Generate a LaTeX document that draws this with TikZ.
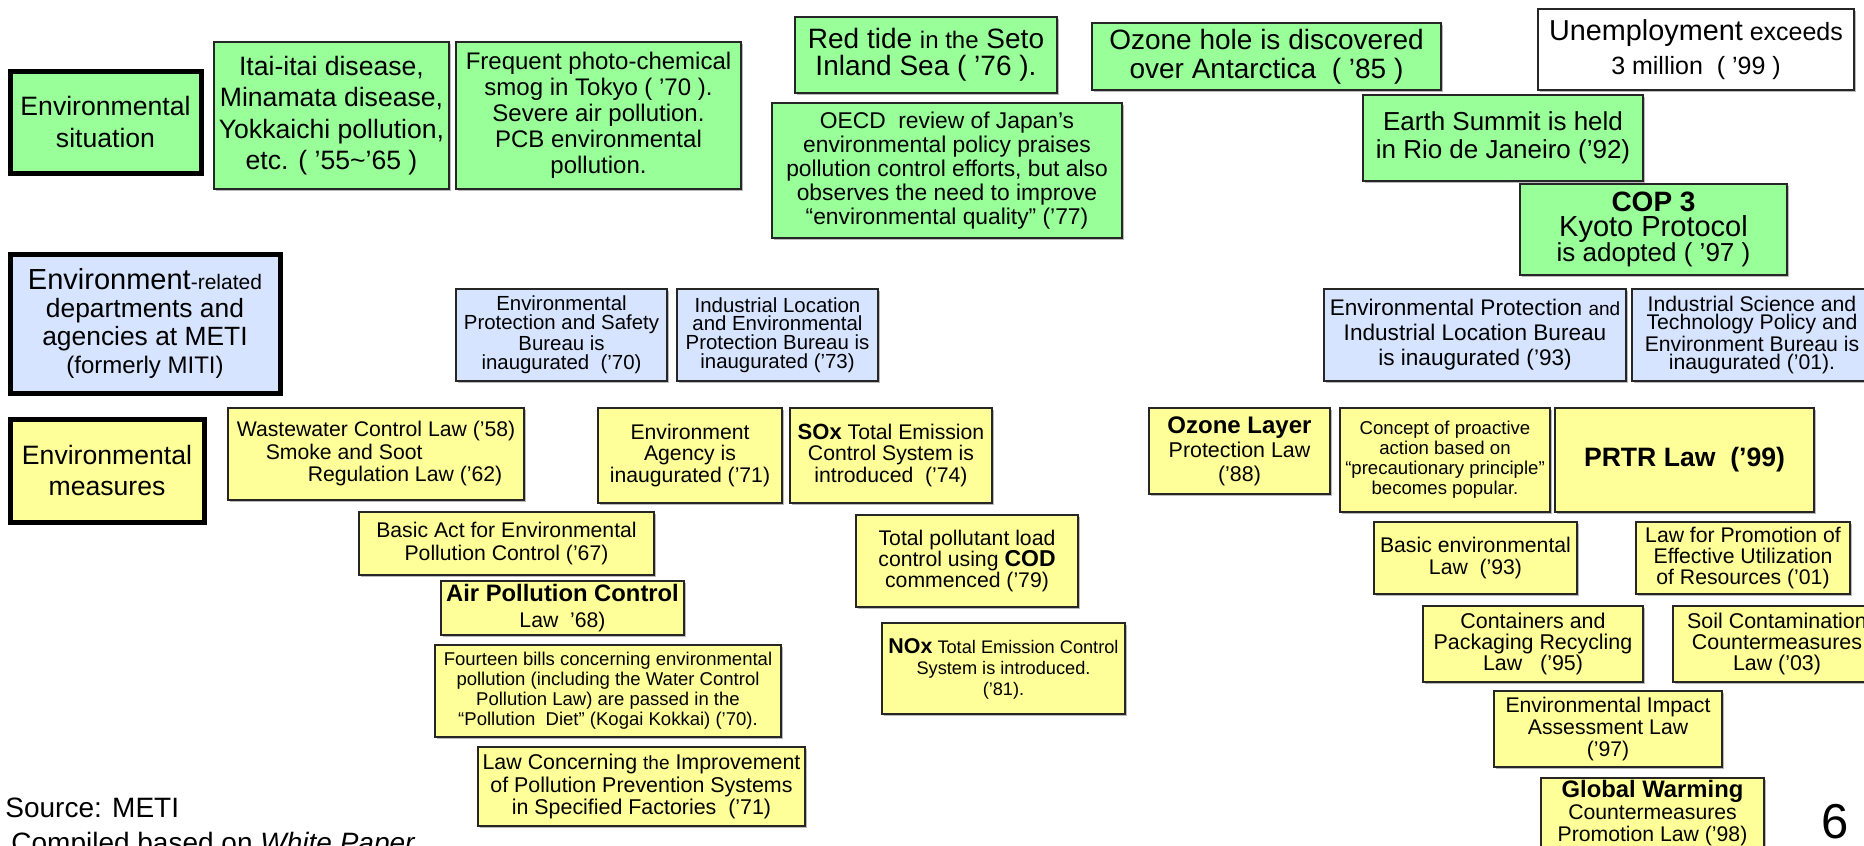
\documentclass[tikz,border=0pt]{standalone}
\usepackage{fontspec}
\usetikzlibrary{shadows}
\setmainfont{Liberation Sans}
\definecolor{gfill}{RGB}{153,255,153}
\definecolor{yfill}{RGB}{255,255,153}
\definecolor{bfill}{RGB}{214,228,255}
\newcommand\fs[2]{\fontsize{#1}{#2}\selectfont}
\newcommand\mybox[7]{\node[#2, minimum width={(#5-#3)*0.5pt}, minimum height={(#6-#4)*0.5pt}] (#1) at ({(#3+#5)/2},{(#4+#6)/2}) {#7};}
\tikzset{
  base/.style={draw=black!85, line width=1.25pt, align=center, inner sep=1pt, text=black,
    drop shadow={shadow xshift=0.9pt, shadow yshift=-0.9pt, fill=black!45, opacity=0.6}},
  grn/.style={base, fill=gfill},
  ylw/.style={base, fill=yfill},
  blu/.style={base, fill=bfill},
  wht/.style={base, fill=white},
  lab/.style={line width=2.5pt, draw=black},
  fnt/.style 2 args={font=\fs{#1}{#2}},
}
\begin{document}
\begin{tikzpicture}[x=0.5pt,y=-0.5pt]
\useasboundingbox[fill=white] (0,0) rectangle (1864,846);
% row 1: environmental situation
\mybox{envsit}{grn,lab,fnt={13.3}{15.8}}{10}{71}{201}{173}{Environmental\\situation}
\mybox{itai}{grn,fnt={13.3}{15.7}}{214}{42}{449}{189}{Itai-itai disease,\\Minamata disease,\\Yokkaichi pollution,\\etc. ( ’55\textasciitilde’65 )}
\mybox{smog}{grn,fnt={12}{13}}{456}{42}{741}{189}{Frequent photo-chemical\\smog in Tokyo ( ’70 ).\\Severe air pollution.\\PCB environmental\\pollution.}
\mybox{redtide}{grn,fnt={14}{13.5}}{795}{17}{1057}{93}{Red tide {\fs{12}{13.5}in the} Seto\\Inland Sea ( ’76 ).}
\mybox{ozhole}{grn,fnt={14}{14.5}}{1092}{23}{1441}{90}{Ozone hole is discovered\\over Antarctica \ ( ’85 )}
\mybox{unemp}{wht,fnt={12.5}{17}}{1538}{9}{1854}{90}{{\fs{14.4}{17}Unemployment} exceeds\\3 million \ ( ’99 )}
\mybox{oecd}{grn,fnt={11.4}{12}}{772}{103}{1122}{238}{OECD \ review of Japan’s\\environmental policy praises\\pollution control efforts, but also\\observes the need to improve\\“environmental quality” (’77)}
\mybox{earth}{grn,fnt={13}{14.2}}{1363}{95}{1643}{181}{Earth Summit is held\\in Rio de Janeiro (’92)}
\mybox{cop}{grn,fnt={13}{12.6}}{1520}{184}{1787}{275}{{\fs{14}{12.6}\bfseries COP 3}\\{\fs{14.5}{12.6}Kyoto Protocol}\\is adopted ( ’97 )}
% row 2: departments
\mybox{envrel}{blu,lab,fnt={13.2}{14}}{10}{254}{280}{393}{{\fs{14.5}{14}Environment}{\fs{10.5}{14}-related}\\departments and\\agencies at METI\\{\fs{12}{14}(formerly MITI)}}
\mybox{epsb}{blu,fnt={10.2}{9.4}}{456}{289}{667}{381}{Environmental\\Protection and Safety\\Bureau is\\inaugurated \ (’70)}
\mybox{ilepb}{blu,fnt={10.2}{9.4}}{677}{289}{878}{381}{Industrial Location\\and Environmental\\Protection Bureau is\\inaugurated (’73)}
\mybox{epilb}{blu,fnt={11.3}{12.5}}{1324}{289}{1626}{381}{Environmental Protection {\fs{9.5}{12.5}and}\\Industrial Location Bureau\\is inaugurated (’93)}
\mybox{istpeb}{blu,fnt={10.6}{9.3}}{1632}{289}{1872}{381}{Industrial Science and\\Technology Policy and\\Environment Bureau is\\inaugurated (’01).}
% row 3: measures
\mybox{envmeas}{ylw,lab,fnt={13.3}{15.8}}{10}{419}{204}{522}{Environmental\\measures}
\mybox{waste}{ylw,fnt={10.6}{11.25},align=left}{228}{408}{524}{500}{Wastewater Control Law (’58)\\\hspace{14.5pt}Smoke and Soot\\\hspace{35.5pt}Regulation Law (’62)}
\mybox{envag}{ylw,fnt={10.6}{10.75}}{598}{408}{782}{503}{Environment\\Agency is\\inaugurated (’71)}
\mybox{sox}{ylw,fnt={10.6}{10.75}}{790}{408}{992}{503}{{\fs{11}{10.75}\bfseries SOx} Total Emission\\Control System is\\introduced \ (’74)}
\mybox{basicact}{ylw,fnt={10.6}{11.5}}{359}{512}{654}{575}{Basic Act for Environmental\\Pollution Control (’67)}
\mybox{air}{ylw,fnt={10.6}{13}}{441}{581}{684}{635}{{\fs{11.9}{13}\bfseries Air Pollution Control}\\Law \ ’68)}
\mybox{fourteen}{ylw,fnt={9.26}{10}}{435}{645}{781}{737}{Fourteen bills concerning environmental\\pollution (including the Water Control\\Pollution Law) are passed in the\\“Pollution \ Diet” (Kogai Kokkai) (’70).}
\mybox{lawconc}{ylw,fnt={10.7}{11.25}}{478}{747}{805}{826}{Law Concerning {\fs{9.5}{11.25}the} Improvement\\of Pollution Prevention Systems\\in Specified Factories \ (’71)}
\mybox{cod}{ylw,fnt={10.6}{10.6}}{856}{515}{1078}{607}{Total pollutant load\\control using {\fs{11.5}{10.6}\bfseries COD}\\commenced (’79)}
\mybox{nox}{ylw,fnt={9.1}{10.5}}{882}{623}{1125}{714}{{\fs{10.7}{10.5}\bfseries NOx} Total Emission Control\\System is introduced.\\(’81).}
\mybox{ozlayer}{ylw,fnt={10.7}{12}}{1149}{408}{1330}{494}{{\fs{12}{12}\bfseries Ozone Layer}\\Protection Law\\(’88)}
\mybox{concept}{ylw,fnt={9.3}{10}}{1340}{408}{1550}{512}{Concept of proactive\\action based on\\“precautionary principle”\\becomes popular.}
\mybox{prtr}{ylw,fnt={13.3}{15}}{1555}{408}{1814}{512}{\bfseries PRTR Law \ (’99)}
\mybox{basicenv}{ylw,fnt={10.6}{10.85}}{1374}{522}{1577}{594}{Basic environmental\\Law \ (’93)}
\mybox{lawprom}{ylw,fnt={10.6}{10.35}}{1636}{522}{1850}{594}{Law for Promotion of\\Effective Utilization\\of Resources (’01)}
\mybox{contain}{ylw,fnt={10.7}{10.5}}{1423}{606}{1643}{682}{Containers and\\Packaging Recycling\\Law \ \ (’95)}
\mybox{soil}{ylw,fnt={10.7}{10.5}}{1673}{606}{1881}{682}{Soil Contamination\\Countermeasures\\Law (’03)}
\mybox{eia}{ylw,fnt={10.6}{10.85}}{1494}{691}{1722}{767}{Environmental Impact\\Assessment Law\\(’97)}
\mybox{glob}{ylw,fnt={10.6}{11}}{1541}{778}{1764}{848}{{\fs{11.9}{11}\bfseries Global Warming}\\Countermeasures\\Promotion Law (’98)}
% footer
\node[anchor=west, font=\fs{14}{16}, inner sep=0pt] (src) at (5,808) {Source: METI};
\node[anchor=base west, font=\fs{14}{16}, inner sep=0pt] (comp) at (11,852) {Compiled based on \textit{White Paper}};
\node[font=\fs{24.5}{28}, inner sep=0pt] (pg) at (1835,822) {6};
\end{tikzpicture}
\end{document}
